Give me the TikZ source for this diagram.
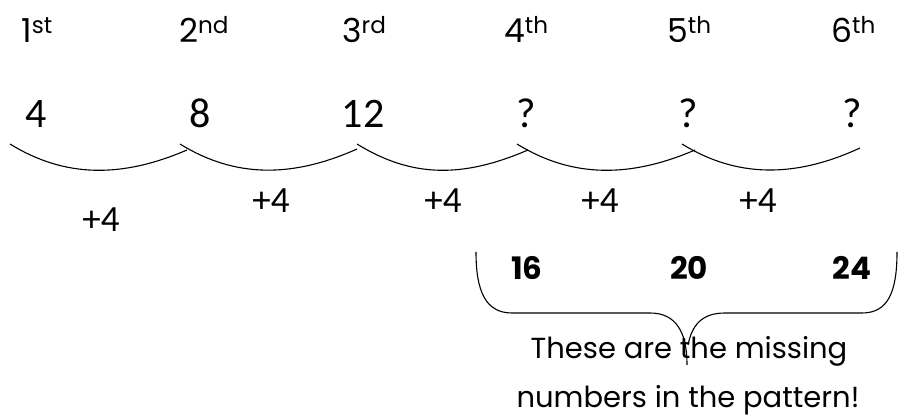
\documentclass[tikz,border=0pt]{standalone}
\usepackage{fontspec}
\setmainfont{Poppins}
\newfontfamily\calibri{Carlito}
\newfontfamily\comic{Poppins}

\begin{document}
\begin{tikzpicture}[x=1pt,y=1pt,
 place/.style={inner sep=0pt,anchor=base west,font=\comic\fontsize{33}{36}\selectfont},
 term/.style={inner sep=0pt,anchor=base,font=\calibri\fontsize{42}{46}\selectfont},
 step4/.style={inner sep=0pt,anchor=base,font=\calibri\fontsize{37}{40}\selectfont},
 answer/.style={inner sep=0pt,anchor=base,font=\comic\bfseries\fontsize{31}{34}\selectfont},
 note/.style={inner sep=0pt,anchor=base,font=\comic\fontsize{29}{34}\selectfont},
 hop/.style={line width=1.1pt},
 brace/.style={line width=1.1pt,line join=round}]
\useasboundingbox (0,0) rectangle (899,417);

% Position labels along the top row.
\node[place] (p1) at (21,374) {1\textsuperscript{st}};
\node[place] (p2) at (179,374) {2\textsuperscript{nd}};
\node[place] (p3) at (342,374) {3\textsuperscript{rd}};
\node[place] (p4) at (504,374) {4\textsuperscript{th}};
\node[place] (p5) at (667,374) {5\textsuperscript{th}};
\node[place] (p6) at (831,374) {6\textsuperscript{th}};

% The terms of the pattern.
\node[term] (t1) at (36,289) {4};
\node[term] (t2) at (200,289) {8};
\node[term] (t3) at (363,289) {12};
\node[term] (t4) at (526,289) {?};
\node[term] (t5) at (688,289) {?};
\node[term] (t6) at (852,289) {?};

% Hops between neighbouring terms; each one starts a little before the last ends.
\coordinate (s1) at (10,273);  \coordinate (e1) at (187,267);
\coordinate (s2) at (180,273); \coordinate (e2) at (357,268);
\coordinate (s3) at (357,273); \coordinate (e3) at (528,267);
\coordinate (s4) at (517,273); \coordinate (e4) at (695,267);
\coordinate (s5) at (682,273); \coordinate (e5) at (860,269);
\draw[hop] (s1) .. controls +(55,-34) and +(-65,-28) .. (e1);
\draw[hop] (s2) .. controls +(55,-34) and +(-65,-29) .. (e2);
\draw[hop] (s3) .. controls +(55,-34) and +(-65,-28) .. (e3);
\draw[hop] (s4) .. controls +(55,-34) and +(-65,-28) .. (e4);
\draw[hop] (s5) .. controls +(55,-34) and +(-65,-30) .. (e5);

\node[step4] (h1) at (101,185) {+4};
\node[step4] (h2) at (271,204) {+4};
\node[step4] (h3) at (443,204) {+4};
\node[step4] (h4) at (600,204) {+4};
\node[step4] (h5) at (758,204) {+4};

% The answers, gathered by a brace.
\node[answer] (a1) at (527,137) {16};
\node[answer] (a2) at (689,137) {20};
\node[answer] (a3) at (852,137) {24};

\draw[brace] (476,165) .. controls (476,125) and (486,104) .. (512,104)
 -- (650,104) .. controls (676,104) and (687,85) .. (687,52);
\draw[brace] (688,72) .. controls (692,92) and (702,104) .. (725,104)
 -- (862,104) .. controls (888,104) and (897,125) .. (897,165);

\node[note] (n1) at (689,58) {These are the missing};
\node[note] (n2) at (688,9) {numbers in the pattern!};
\end{tikzpicture}
\end{document}
